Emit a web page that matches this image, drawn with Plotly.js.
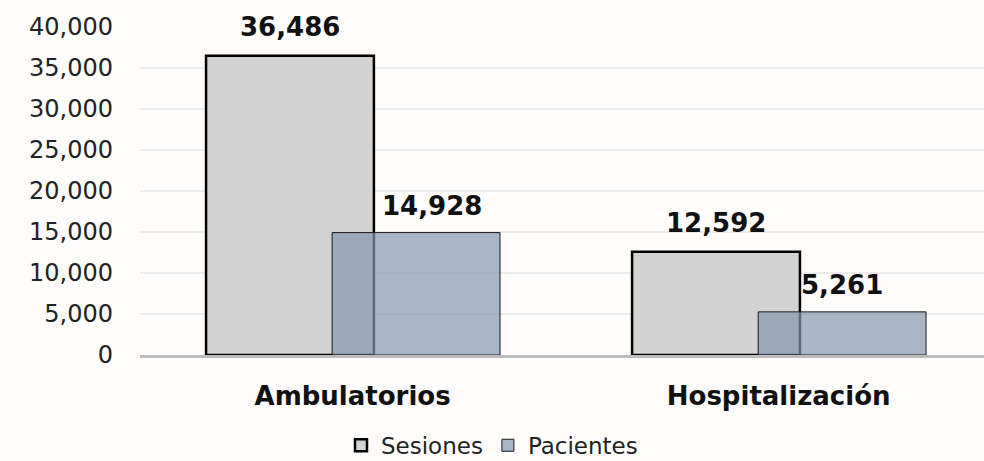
<!DOCTYPE html>
<html>
<head>
<meta charset="utf-8">
<script src="https://cdn.plot.ly/plotly-3.0.1.min.js"></script>
<style>
html,body{margin:0;padding:0;background:#fefdfb;}
#chart{width:984px;height:461px;}
</style>
</head>
<body>
<div id="chart"></div>
<script>
const categories = ["Ambulatorios", "Hospitalización"];
const sesiones = [36486, 12592];
const pacientes = [14928, 5261];
const seriesNames = ["Sesiones", "Pacientes"];
const yTicks = [0, 5000, 10000, 15000, 20000, 25000, 30000, 35000, 40000];

const fmt = v => v.toLocaleString("en-US");
const FONT = "DejaVu Sans, sans-serif";
const BAR_W = 0.394;
const OFF_S = -0.344;
const OFF_P = -0.048;

const traces = [
  {
    type: "bar", name: seriesNames[0], x: categories, y: sesiones,
    width: BAR_W, offset: OFF_S,
    marker: {color: "#d3d3d3", line: {color: "#000000", width: 2.5}},
    hoverinfo: "skip"
  },
  {
    type: "bar", name: seriesNames[1], x: categories, y: pacientes,
    width: BAR_W, offset: OFF_P,
    marker: {color: "rgba(132,151,176,0.7)", line: {color: "#1a1a1a", width: 1}},
    hoverinfo: "skip"
  }
];

const labelFont = {family: FONT, size: 26, color: "#111", weight: "bold"};
const annotations = [];
categories.forEach((c, i) => {
  annotations.push({
    x: i + OFF_S + BAR_W / 2, y: sesiones[i], xref: "x", yref: "y",
    text: fmt(sesiones[i]), showarrow: false, yanchor: "bottom", yshift: 12,
    font: labelFont
  });
  annotations.push({
    x: i + OFF_P + BAR_W / 2, y: pacientes[i], xref: "x", yref: "y",
    text: fmt(pacientes[i]), showarrow: false, yanchor: "bottom", yshift: 10,
    xshift: i === 0 ? 16 : 0,
    font: labelFont
  });
});

const layout = {
  width: 984, height: 461,
  paper_bgcolor: "#fefdfb", plot_bgcolor: "rgba(0,0,0,0)",
  margin: {l: 140, r: 0, t: 27, b: 106},
  barmode: "overlay",
  showlegend: true,
  font: {family: FONT, color: "#222"},
  annotations: annotations,
  xaxis: {
    type: "category", range: [-0.499, 1.482],
    showgrid: false, showline: true, linecolor: "#bdbdbd", linewidth: 2.5,
    ticks: "", ticklabelstandoff: 16,
    tickfont: {family: FONT, size: 26, color: "#111", weight: "bold"}
  },
  yaxis: {
    range: [0, 40000], tickvals: yTicks, ticktext: yTicks.map(fmt),
    showgrid: true, gridcolor: "#ececec", gridwidth: 1.5,
    zeroline: false, showline: false, ticks: "",
    ticklabelstandoff: 26,
    tickfont: {family: FONT, size: 24, color: "#222"}
  },
  legend: {
    orientation: "h", xref: "container", yref: "container",
    x: 0.5, xanchor: "center", y: 0.034, yanchor: "middle",
    font: {family: FONT, size: 23, color: "#222"},
    itemwidth: 30, traceorder: "normal", bgcolor: "rgba(0,0,0,0)",
    tracegroupgap: 0
  }
};

Plotly.newPlot("chart", traces, layout, {displayModeBar: false, staticPlot: true});
</script>
</body>
</html>
